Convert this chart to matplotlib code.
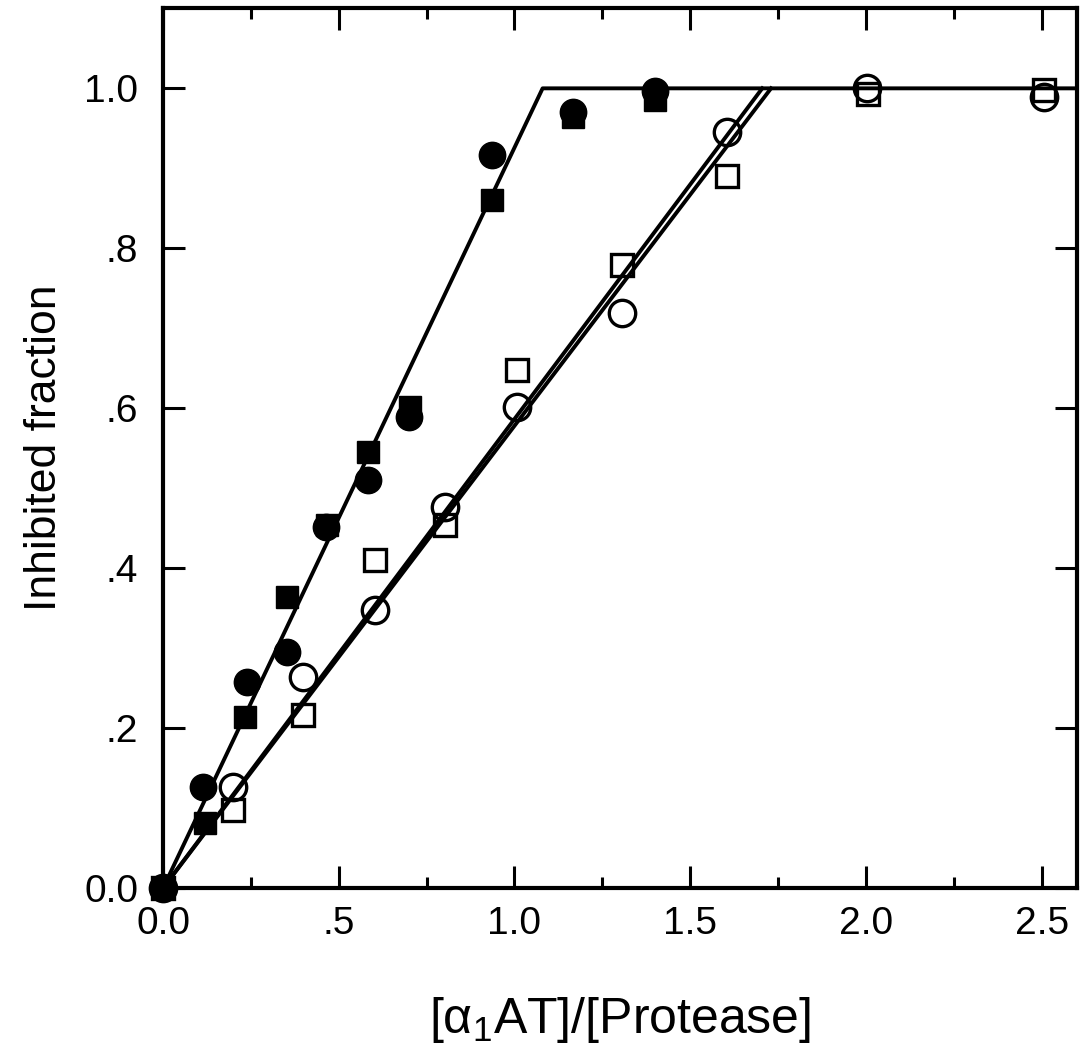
import numpy as np
import matplotlib.pyplot as plt

plt.rcParams['font.family'] = ['Liberation Sans', 'DejaVu Sans']
plt.rcParams['mathtext.fontset'] = 'custom'
plt.rcParams['mathtext.rm'] = 'Liberation Sans'
plt.rcParams['mathtext.it'] = 'Liberation Sans'

# filled symbols
x_fc = [0.0, 0.113, 0.238, 0.352, 0.463, 0.583, 0.700, 0.936, 1.167, 1.400]
y_fc = [0.0, 0.126, 0.258, 0.295, 0.451, 0.510, 0.589, 0.917, 0.970, 0.997]
x_fs = [0.0, 0.118, 0.232, 0.352, 0.466, 0.583, 0.702, 0.936, 1.167, 1.400]
y_fs = [0.0, 0.081, 0.214, 0.364, 0.454, 0.545, 0.601, 0.860, 0.964, 0.985]

# open symbols
x_oc = [0.0, 0.198, 0.398, 0.602, 0.802, 1.007, 1.306, 1.605, 2.004, 2.506]
y_oc = [0.0, 0.126, 0.264, 0.348, 0.476, 0.601, 0.719, 0.945, 1.000, 0.989]
x_os = [0.0, 0.198, 0.398, 0.602, 0.802, 1.007, 1.306, 1.605, 2.007, 2.506]
y_os = [0.0, 0.098, 0.216, 0.410, 0.454, 0.648, 0.779, 0.891, 0.993, 0.998]

# fitted lines (breakpoints)
fit1_x = [0.0, 1.08, 2.6]
fit1_y = [0.0, 1.0, 1.0]
fit2_x = [0.0, 1.705]
fit2_y = [0.0, 1.0]
fit3_x = [0.0, 1.73]
fit3_y = [0.0, 1.0]

fig = plt.figure(figsize=(10.8, 10.46), dpi=100)
ax = fig.add_axes([0.151, 0.151, 0.846, 0.841])

lw = 2.8
ax.plot(fit1_x, fit1_y, color='black', lw=lw, zorder=2)
ax.plot(fit2_x, fit2_y, color='black', lw=lw, zorder=2)
ax.plot(fit3_x, fit3_y, color='black', lw=lw, zorder=2)

ax.plot(x_fc, y_fc, 'o', ms=19, mfc='black', mec='black', ls='none', clip_on=False, zorder=3)
ax.plot(x_fs, y_fs, 's', ms=16, mfc='black', mec='black', ls='none', clip_on=False, zorder=3)
ax.plot(x_oc, y_oc, 'o', ms=19, mfc='none', mec='black', mew=2.4, ls='none', clip_on=False, zorder=3)
ax.plot(x_os, y_os, 's', ms=16, mfc='none', mec='black', mew=2.4, ls='none', clip_on=False, zorder=3)

ax.set_xlim(0, 2.6)
ax.set_ylim(0, 1.1)
ax.set_xticks([0, 0.5, 1.0, 1.5, 2.0, 2.5])
ax.set_xticklabels(['0.0', '.5', '1.0', '1.5', '2.0', '2.5'])
ax.set_xticks([0.25, 0.75, 1.25, 1.75, 2.25], minor=True)
ax.set_yticks([0, 0.2, 0.4, 0.6, 0.8, 1.0])
ax.set_yticklabels(['0.0', '.2', '.4', '.6', '.8', '1.0'])

ax.tick_params(which='both', direction='in', top=True, right=True, width=2.2, labelsize=28)
ax.tick_params(axis='x', pad=13)
ax.tick_params(axis='y', pad=18)
ax.tick_params(which='major', length=16)
ax.tick_params(which='minor', length=8)
for s in ax.spines.values():
    s.set_linewidth(3)

ax.set_xlabel('[α$_1$AT]/[Protease]', fontsize=36, labelpad=38)
ax.set_ylabel('Inhibited fraction', fontsize=32, labelpad=14)

fig.savefig('out.png', dpi=100)
